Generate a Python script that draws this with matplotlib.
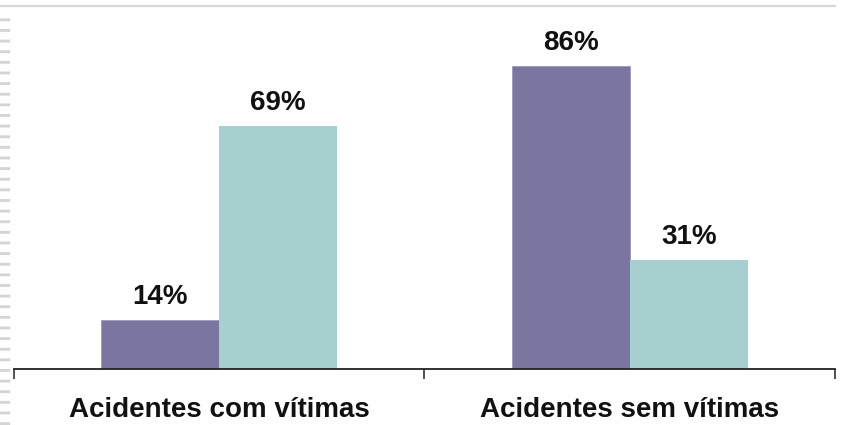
import numpy as np
import matplotlib.pyplot as plt
from matplotlib.lines import Line2D

# dados do gráfico
categorias = ['Acidentes com vítimas', 'Acidentes sem vítimas']
serie_a = [14, 86]   # barras roxas
serie_b = [69, 31]   # barras verde-água
rotulos_a = ['14%', '86%']
rotulos_b = ['69%', '31%']

cor_a = '#7a76a0'
cor_b = '#a8cfcf'

W, H = 845, 425
fig = plt.figure(figsize=(W / 100, H / 100), dpi=100)
fig.patch.set_facecolor('#fefefe')

# eixo: x de 13 a 835 px, y de 6 a 369 px
ax = fig.add_axes([14 / W, (H - 369) / H, (835 - 14) / W, (369 - 6) / H])
ax.set_facecolor('none')

x = np.arange(len(categorias))
larg = 0.287
ba = ax.bar(x - larg / 2, serie_a, larg, color=cor_a, edgecolor='#9b98bb', linewidth=0.6)
bb = ax.bar(x + larg / 2, serie_b, larg, color=cor_b, linewidth=0)

for barras, rots in ((ba, rotulos_a), (bb, rotulos_b)):
    for r, t in zip(barras, rots):
        ax.annotate(t, (r.get_x() + r.get_width() / 2, r.get_height()),
                    xytext=(0, 7), textcoords='offset points',
                    ha='center', va='bottom', fontsize=20, fontweight='bold',
                    family='Liberation Sans', color='#111111')

ax.set_xlim(-0.5, 1.5)
ax.set_ylim(0, 103)
ax.set_yticks([])
for s in ('left', 'right', 'top'):
    ax.spines[s].set_visible(False)
ax.spines['bottom'].set_color('#222222')
ax.spines['bottom'].set_linewidth(1.3)

# ticks nas fronteiras das categorias, rótulos no centro
ax.set_xticks([-0.5, 0.5, 1.5])
ax.set_xticklabels([])
ax.tick_params(axis='x', which='major', length=7, width=1.2, color='#333333', direction='out')
ax.set_xticks(x, minor=True)
ax.set_xticklabels(categorias, minor=True, fontsize=20, fontweight='bold',
                   family='Liberation Sans', color='#111111')
ax.tick_params(axis='x', which='minor', length=0, pad=20.5)

# linha cinza do topo e borda tracejada à esquerda
fig.add_artist(Line2D([0, 835 / W], [1 - 6 / H, 1 - 6 / H], color='#d8d8d8', lw=1.6))
fig.add_artist(Line2D([5 / W, 5 / W], [0, 1 - 12 / H], color='#d4d4d4', lw=7.5,
                      dashes=(0.27, 0.75), solid_capstyle='butt'))

fig.savefig('out.png', dpi=100, facecolor=fig.get_facecolor())
